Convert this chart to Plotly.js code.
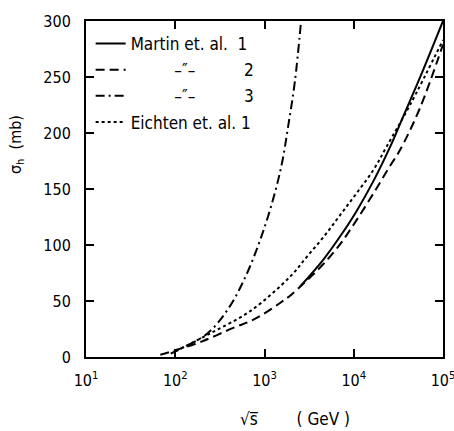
<!DOCTYPE html>
<html>
<head>
<meta charset="utf-8">
<script src="https://cdn.plot.ly/plotly-3.0.1.min.js"></script>
<style>html,body{margin:0;padding:0;background:#fff;}#chart{width:454px;height:431px;}</style>
</head>
<body>
<div id="chart"></div>
<script>
// sqrt(s) in GeV, sigma_h in mb
const martin1_x = [2510, 4570, 7080, 10700, 16600, 25700, 35500, 56200, 100000];
const martin1_y = [63, 87, 108, 130, 157, 188, 214, 251, 300];

const martin2_x = [68, 100, 200, 447, 692, 1000, 1480, 1950, 2950, 4570, 7080, 10700, 16600, 25700, 33100, 55000, 100000];
const martin2_y = [2, 6, 14, 26, 32, 39, 48, 55, 68, 83, 101, 122, 146, 171, 185, 222, 279];

const martin3_x = [89, 105, 229, 407, 631, 890, 1200, 1550, 1850, 2190, 2570];
const martin3_y = [3, 6, 21, 45, 74, 104, 136, 171, 207, 246, 300];

const eichten1_x = [100, 245, 692, 1950, 2950, 4570, 7080, 10700, 16600, 23400, 42700, 100000];
const eichten1_y = [5, 21, 41, 72, 89, 107, 127, 146, 167, 188, 225, 283];

const xTickVals = [10, 100, 1000, 10000, 100000];
const xTickText = ['10<sup>1</sup>', '10<sup>2</sup>', '10<sup>3</sup>', '10<sup>4</sup>', '10<sup>5</sup>'];
const yTickVals = [0, 50, 100, 150, 200, 250, 300];

const NB = '\u00A0';
const pad = n => NB.repeat(n);
const names = [
  'Martin et. al.' + pad(2) + '1',
  pad(9) + '\u2013\u2033\u2013' + pad(10) + '2',
  pad(9) + '\u2013\u2033\u2013' + pad(10) + '3',
  'Eichten et. al.' + pad(1) + '1'
];

const FONT = 'DejaVu Sans Condensed, Liberation Sans Narrow, DejaVu Sans, sans-serif';

const traces = [
  {x: martin1_x, y: martin1_y, name: names[0], legendgroup: 'a',
   line: {color: '#000', width: 2, dash: 'solid', shape: 'spline', smoothing: 1}},
  {x: martin2_x, y: martin2_y, name: names[1], legendgroup: 'b',
   line: {color: '#000', width: 2, dash: '9px,5px', shape: 'spline', smoothing: 1}},
  {x: martin3_x, y: martin3_y, name: names[2], legendgroup: 'c',
   line: {color: '#000', width: 2, dash: '9px,4px,2px,4px', shape: 'spline', smoothing: 1}},
  {x: eichten1_x, y: eichten1_y, name: names[3], legendgroup: 'd',
   line: {color: '#000', width: 2, dash: 'dot', shape: 'spline', smoothing: 1}}
].map(t => Object.assign({type: 'scatter', mode: 'lines', cliponaxis: true}, t));

const layout = {
  width: 454, height: 431,
  margin: {l: 86, r: 11, t: 21, b: 74},
  paper_bgcolor: '#fff', plot_bgcolor: '#fff',
  font: {family: FONT, size: 16, color: '#000'},
  showlegend: true,
  legend: {x: 0.013, y: 0.985, xanchor: 'left', yanchor: 'top',
           bgcolor: 'rgba(0,0,0,0)', font: {family: FONT, size: 17, color: '#000'},
           traceorder: 'grouped', tracegroupgap: 1, itemwidth: 30},
  xaxis: {
    type: 'log', range: [0.9999, 5.0001],
    tickvals: xTickVals, ticktext: xTickText,
    ticks: 'inside', ticklen: 8, tickwidth: 2, tickcolor: '#000',
    showline: true, linecolor: '#000', linewidth: 2, mirror: 'ticks',
    showgrid: false, zeroline: false,
    ticklabelstandoff: 8, ticklabeloverflow: 'allow',
    tickfont: {family: FONT, size: 16, color: '#000'}
  },
  yaxis: {
    range: [0, 300],
    tickvals: yTickVals,
    ticks: 'inside', ticklen: 8, tickwidth: 2, tickcolor: '#000',
    showline: true, linecolor: '#000', linewidth: 2, mirror: 'ticks',
    showgrid: false, zeroline: false,
    ticklabelstandoff: 10,
    tickfont: {family: FONT, size: 16, color: '#000'}
  },
  annotations: [
    {text: '\u221As\u0305' + pad(8) + '( GeV )', xref: 'paper', yref: 'paper',
     x: 0.585, y: -0.185, xanchor: 'center', yanchor: 'middle', showarrow: false,
     font: {family: FONT, size: 17, color: '#000'}},
    {text: '\u03C3<sub>h</sub>' + pad(2) + '(mb)', xref: 'paper', yref: 'paper',
     x: -0.193, y: 0.631, xanchor: 'center', yanchor: 'middle', showarrow: false,
     textangle: -90, font: {family: FONT, size: 16, color: '#000'}}
  ]
};

Plotly.newPlot('chart', traces, layout, {displayModeBar: false, staticPlot: true});
</script>
</body>
</html>
